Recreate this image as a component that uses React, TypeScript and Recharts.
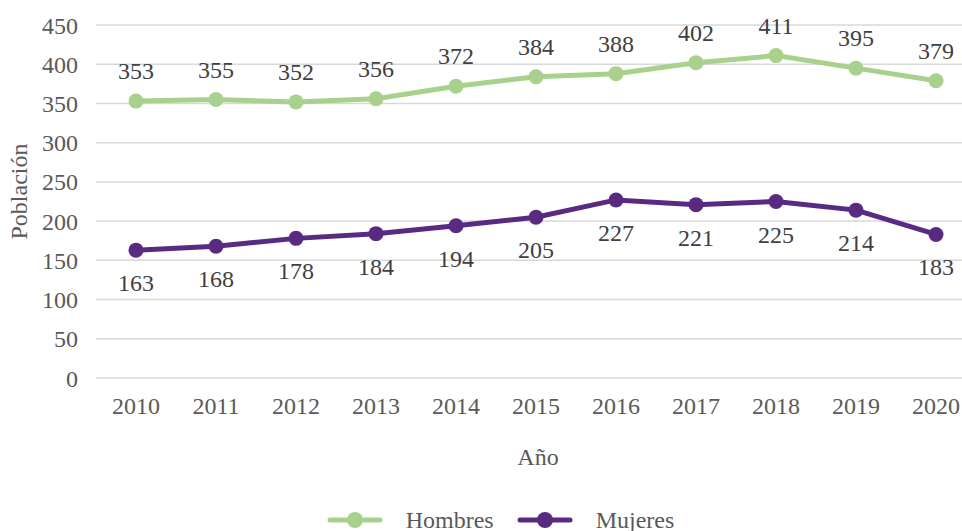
import React from "react";
import { LineChart, Line, XAxis, YAxis, CartesianGrid, LabelList, Legend } from "recharts";

const years = ["2010", "2011", "2012", "2013", "2014", "2015", "2016", "2017", "2018", "2019", "2020"];
const hombres = [353, 355, 352, 356, 372, 384, 388, 402, 411, 395, 379];
const mujeres = [163, 168, 178, 184, 194, 205, 227, 221, 225, 214, 183];
const yTicks = [0, 50, 100, 150, 200, 250, 300, 350, 400, 450];

const data = years.map((y, i) => ({ year: y, Hombres: hombres[i], Mujeres: mujeres[i] }));

const GREEN = "#A9D18E";
const PURPLE = "#582A82";
const FONT = '"Liberation Serif", "Times New Roman", serif';
const TICK = "#595959";
const LABEL = "#404040";
const FS = 24;

const LegendContent = () => {
  const items = [
    { name: "Hombres", color: GREEN },
    { name: "Mujeres", color: PURPLE },
  ];
  return (
    <div style={{ display: "flex", justifyContent: "center", alignItems: "center", paddingLeft: 21, height: 30, paddingTop: 4, fontFamily: FONT, fontSize: FS, color: TICK }}>
      {items.map((it, i) => (
        <div key={it.name} style={{ display: "flex", alignItems: "center", marginLeft: i === 0 ? 0 : 23 }}>
          <svg width={56} height={18} style={{ display: "block" }}>
            <line x1={3} y1={9} x2={53} y2={9} stroke={it.color} strokeWidth={5} strokeLinecap="round" />
            <circle cx={28} cy={9} r={8} fill={it.color} />
          </svg>
          <span style={{ marginLeft: 23, fontFamily: FONT }}>{it.name}</span>
        </div>
      ))}
    </div>
  );
};

const textStyle = { fontFamily: FONT };

export default function App() {
  return (
    <div style={{ position: "fixed", left: 0, top: 0, width: 962, height: 531, overflow: "hidden", background: "#fff", fontFamily: FONT }}>
      <LineChart width={990} height={531} data={data} margin={{ top: 25, right: 10, left: 0, bottom: 0 }} style={{ fontFamily: FONT }}>
        <CartesianGrid vertical={false} stroke="#d9d9d9" strokeWidth={1.5} />
        <XAxis
          dataKey="year"
          axisLine={false}
          tickLine={false}
          tickSize={0}
          tickMargin={19}
          height={123}
          padding={{ left: 40, right: 44 }}
          tick={{ fill: TICK, fontSize: FS, fontFamily: FONT, style: textStyle }}
          label={{ value: "Año", position: "insideBottom", offset: 36, fill: TICK, fontSize: FS, fontFamily: FONT, style: textStyle }}
        />
        <YAxis
          domain={[0, 450]}
          ticks={yTicks}
          width={96}
          axisLine={false}
          tickLine={false}
          tickSize={0}
          tickMargin={18}
          interval={0}
          tick={{ fill: TICK, fontSize: FS, fontFamily: FONT, style: textStyle }}
          label={{ value: "Población", angle: -90, position: "insideLeft", offset: 18, dy: -10, fill: TICK, fontSize: FS, fontFamily: FONT, style: { textAnchor: "middle", fontFamily: FONT } }}
        />
        <Legend verticalAlign="bottom" height={30} content={<LegendContent />} />
        <Line type="linear" dataKey="Hombres" stroke={GREEN} strokeWidth={5} dot={{ r: 7.5, fill: GREEN, stroke: GREEN, strokeWidth: 0 }} activeDot={false} isAnimationActive={false}>
          <LabelList dataKey="Hombres" position="top" offset={22} fill={LABEL} fontSize={FS} fontFamily={FONT} style={textStyle} />
        </Line>
        <Line type="linear" dataKey="Mujeres" stroke={PURPLE} strokeWidth={5} dot={{ r: 7.5, fill: PURPLE, stroke: PURPLE, strokeWidth: 0 }} activeDot={false} isAnimationActive={false}>
          <LabelList dataKey="Mujeres" position="bottom" offset={24} fill={LABEL} fontSize={FS} fontFamily={FONT} style={textStyle} />
        </Line>
      </LineChart>
    </div>
  );
}
